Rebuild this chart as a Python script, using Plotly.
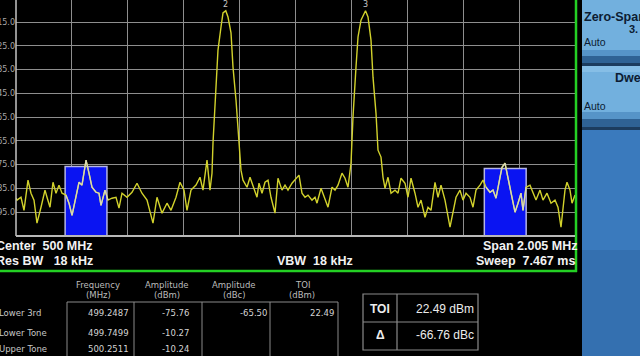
import plotly.graph_objects as go

W, H = 640, 356

# ---------------- data ----------------
freq_mhz = [498.9975, 499.0011, 499.0154, 499.0262, 499.0405, 499.0513, 499.0621, 499.0728, 499.0872,
            499.1015, 499.1087, 499.1195, 499.1302, 499.1410, 499.1517, 499.1625, 499.1768, 499.1876,
            499.1984, 499.2127, 499.2235, 499.2342, 499.2487, 499.2593, 499.2701, 499.2844, 499.2952,
            499.3024, 499.3167, 499.3275, 499.3418, 499.3562, 499.3669, 499.3777, 499.3956, 499.4136,
            499.4315, 499.4494, 499.4674, 499.4889, 499.5032, 499.5212, 499.5391, 499.5535, 499.5714,
            499.5857, 499.6001, 499.6108, 499.6252, 499.6431, 499.6575, 499.6682, 499.6826, 499.6933,
            499.7005, 499.7041, 499.7113, 499.7184, 499.7220, 499.7328, 499.7400, 499.7499, 499.7579,
            499.7687, 499.7758, 499.7866, 499.7938, 499.7974, 499.8045, 499.8117, 499.8261, 499.8368,
            499.8476, 499.8619, 499.8691, 499.8799, 499.8906, 499.9014, 499.9121, 499.9265, 499.9372,
            499.9516, 499.9624, 499.9731, 499.9875, 499.9982, 500.0126, 500.0233, 500.0341, 500.0448,
            500.0592, 500.0700, 500.0771, 500.0915, 500.1022, 500.1166, 500.1309, 500.1417, 500.1524,
            500.1668, 500.1776, 500.1883, 500.1991, 500.2062, 500.2170, 500.2242, 500.2349, 500.2511,
            500.2601, 500.2708, 500.2780, 500.2887, 500.2959, 500.3067, 500.3139, 500.3210, 500.3318,
            500.3426, 500.3569, 500.3677, 500.3784, 500.3928, 500.4035, 500.4143, 500.4286, 500.4394,
            500.4502, 500.4645, 500.4753, 500.4860, 500.5004, 500.5111, 500.5219, 500.5362, 500.5542,
            500.5649, 500.5757, 500.5900, 500.6008, 500.6116, 500.6259, 500.6367, 500.6474, 500.6618,
            500.6726, 500.6833, 500.6976, 500.7084, 500.7192, 500.7335, 500.7407, 500.7515, 500.7586,
            500.7694, 500.7801, 500.7873, 500.7981, 500.8088, 500.8160, 500.8268, 500.8411, 500.8519,
            500.8626, 500.8770, 500.8877, 500.9021, 500.9164, 500.9308, 500.9415, 500.9523, 500.9666,
            500.9738, 500.9846, 500.9918, 501.0025]
amp_dbm = [-89.1, -89.9, -88.7, -94.2, -81.5, -87.0, -89.9, -99.6, -92.9,
           -85.7, -88.7, -92.9, -82.4, -87.0, -83.6, -87.0, -87.8, -91.2,
           -96.3, -88.7, -82.4, -83.6, -73.1, -78.6, -84.5, -86.6, -87.0,
           -92.1, -85.7, -89.9, -89.1, -88.7, -93.3, -87.0, -88.7, -86.6,
           -82.8, -87.0, -89.9, -99.6, -88.7, -95.4, -91.2, -94.2, -88.7,
           -82.4, -85.7, -94.2, -85.7, -83.6, -80.3, -85.7, -73.1, -85.7,
           -78.6, -65.9, -52.1, -38.2, -26.8, -17.1, -11.2, -10.27, -12.9,
           -19.6, -33.9, -47.8, -59.2, -68.9, -77.3, -81.5, -84.5, -80.3,
           -83.6, -88.7, -82.8, -87.0, -82.4, -81.5, -88.7, -95.4, -80.7,
           -85.7, -83.6, -85.7, -82.8, -81.5, -79.4, -87.0, -88.7, -87.8,
           -89.9, -88.7, -91.2, -84.9, -88.7, -92.9, -84.5, -85.7, -83.6,
           -78.6, -80.7, -84.5, -74.4, -55.0, -33.9, -21.3, -14.2, -10.24,
           -12.9, -22.6, -38.2, -53.3, -68.9, -71.8, -80.3, -84.9, -80.3,
           -87.0, -85.7, -87.0, -80.7, -82.8, -88.7, -80.7, -87.0, -92.9,
           -89.9, -97.1, -92.9, -94.2, -82.4, -88.7, -83.6, -89.9, -101.3,
           -94.2, -88.7, -85.7, -89.9, -87.0, -88.7, -92.9, -85.7, -83.6,
           -81.5, -84.5, -86.6, -85.7, -89.1, -80.3, -76.1, -74.4, -78.6,
           -84.5, -89.9, -95.0, -91.2, -87.0, -94.2, -84.5, -83.6, -87.0,
           -89.9, -85.7, -89.9, -87.0, -91.2, -89.9, -92.9, -101.3, -85.7,
           -82.4, -85.7, -91.2, -87.8]

center_mhz = 500.0
span_mhz = 2.005
ref_level = -5.0
y_bottom = -105.0
y_ticks = [-95, -85, -75, -65, -55, -45, -35, -25, -15]

markers = [("2", 499.7499, -10.27), ("3", 500.2511, -10.24)]
im3_freqs = [499.2487, 500.7523]
im3_tops = [-75.76, -76.6]
im3_halfwidth = 0.075

row_labels = ["Lower 3rd", "Lower Tone", "Upper Tone"]
row_freq = ["499.2487", "499.7499", "500.2511"]
row_amp_dbm = ["-75.76", "-10.27", "-10.24"]
row_amp_dbc = ["-65.50", "", ""]
row_toi = ["22.49", "", ""]
col_headers = [("Frequency", "(MHz)"), ("Amplitude", "(dBm)"), ("Amplitude", "(dBc)"), ("TOI", "(dBm)")]
toi_result = "22.49 dBm"
delta_result = "-66.76 dBc"

# ---------------- helpers ----------------
def px(x):
    return x / W

def py(y):
    return 1 - y / H

x0f = center_mhz - span_mhz / 2
x1f = center_mhz + span_mhz / 2
ytop = ref_level - 1.75 / 2.375   # value at very top pixel row

fig = go.Figure()

fig.add_trace(go.Scatter(x=freq_mhz, y=amp_dbm, mode="lines",
                         line=dict(color="#d2d22c", width=1.4), hoverinfo="skip"))
for fc in im3_freqs:
    lo, hi = fc - im3_halfwidth - 0.004, fc + im3_halfwidth + 0.004
    xs = [f for f in freq_mhz if lo <= f <= hi]
    ys = [a for f, a in zip(freq_mhz, amp_dbm) if lo <= f <= hi]
    fig.add_trace(go.Scatter(x=xs, y=ys, mode="lines",
                             line=dict(color="#d8d8b8", width=1.3), hoverinfo="skip"))

shapes = []
for fc, top in zip(im3_freqs, im3_tops):
    shapes.append(dict(type="rect", xref="x", yref="y", x0=fc - im3_halfwidth, x1=fc + im3_halfwidth,
                       y0=y_bottom, y1=top, fillcolor="#0a14f2",
                       line=dict(color="#b4b4e6", width=1.5), layer="between"))

# green frame
shapes.append(dict(type="line", xref="paper", yref="paper", x0=px(0), x1=px(577), y0=py(271), y1=py(271),
                   line=dict(color="#24d024", width=2.5)))
shapes.append(dict(type="line", xref="paper", yref="paper", x0=px(576), x1=px(576), y0=py(0), y1=py(272),
                   line=dict(color="#24d024", width=2.5)))

def rect(xa, ya, xb, yb, color):
    shapes.append(dict(type="rect", xref="paper", yref="paper", x0=px(xa), x1=px(xb),
                       y0=py(yb), y1=py(ya), fillcolor=color, line=dict(width=0), layer="above"))

rect(582, 0, 640, 356, "#3876b8")
rect(582, 0, 640, 50, "#72b0de")
rect(582, 50, 640, 56, "#5694c8")
rect(582, 56, 640, 63, "#2f6294")
rect(582, 63, 640, 66, "#1c3c5e")
rect(582, 66, 640, 72, "#86bee6")
rect(582, 72, 640, 112, "#72b0de")
rect(582, 112, 640, 119, "#5694c8")
rect(582, 119, 640, 127, "#2f6294")
rect(582, 127, 640, 130, "#1c3c5e")
rect(582, 130, 640, 250, "#3a7abd")
rect(582, 250, 640, 356, "#3470b0")

gcol = "#8a8a8a"
tx = [67, 134, 202, 270, 338]
for xv in tx:
    shapes.append(dict(type="line", xref="paper", yref="paper", x0=px(xv), x1=px(xv), y0=py(302), y1=py(357),
                       line=dict(color=gcol, width=1)))
shapes.append(dict(type="line", xref="paper", yref="paper", x0=px(67), x1=px(338), y0=py(302), y1=py(302),
                   line=dict(color=gcol, width=1)))
shapes.append(dict(type="rect", xref="paper", yref="paper", x0=px(363), x1=px(478), y0=py(350), y1=py(294),
                   line=dict(color=gcol, width=1.2)))
shapes.append(dict(type="line", xref="paper", yref="paper", x0=px(363), x1=px(478), y0=py(322), y1=py(322),
                   line=dict(color=gcol, width=1.2)))
shapes.append(dict(type="line", xref="paper", yref="paper", x0=px(397), x1=px(397), y0=py(294), y1=py(350),
                   line=dict(color=gcol, width=1.2)))

# plot borders: left and bottom
shapes.append(dict(type="line", xref="paper", yref="paper", x0=px(16), x1=px(16), y0=py(236), y1=py(0),
                   line=dict(color="#c4c4c4", width=1.5)))
shapes.append(dict(type="line", xref="paper", yref="paper", x0=px(16), x1=px(575), y0=py(236), y1=py(236),
                   line=dict(color="#b8b8b8", width=2)))

ann = []

def text(x, y, s, size=9, color="#d0d0d0", anchor="left", bold=False, family="Liberation Sans"):
    if bold:
        s = "<b>" + s + "</b>"
    ann.append(dict(xref="paper", yref="paper", x=px(x), y=py(y), text=s, showarrow=False,
                    xanchor=anchor, yanchor="middle", borderpad=0,
                    font=dict(size=size, color=color, family=family)))

for lab, f, a in markers:
    ann.append(dict(xref="x", yref="y", x=f, y=a, text=lab, showarrow=False, yshift=6,
                    font=dict(size=8, color="#c8c8c8", family="DejaVu Sans")))

NB = "\u00a0"
text(-5, 246, "Center" + NB * 2 + "500 MHz", size=12.5, color="#f2f2f2", bold=True)
text(-5, 261, "Res BW" + NB * 3 + "18 kHz", size=12.5, color="#f2f2f2", bold=True)
text(276, 261, "VBW" + NB * 2 + "18 kHz", size=12.5, color="#f2f2f2", bold=True)
text(578, 246, "Span 2.005 MHz", size=12.5, color="#f2f2f2", anchor="right", bold=True)
text(576, 261, "Sweep" + NB * 2 + "7.467 ms", size=12.5, color="#f2f2f2", anchor="right", bold=True)

hdr_x = [98, 167, 234, 302]
for (h1, h2), hx in zip(col_headers, hdr_x):
    text(hx, 285, h1, size=8.5, color="#bcbcbc", anchor="center", family="DejaVu Sans")
    text(hx, 295, h2, size=8.5, color="#bcbcbc", anchor="center", family="DejaVu Sans")
row_y = [313, 333, 349]
for i, ry in enumerate(row_y):
    text(-2, ry, row_labels[i], size=8.5, color="#c8c8c8", family="DejaVu Sans")
    text(130, ry, row_freq[i], size=8.5, color="#d4d4d4", anchor="right", family="DejaVu Sans")
    text(190, ry, row_amp_dbm[i], size=8.5, color="#d4d4d4", anchor="right", family="DejaVu Sans")
    if row_amp_dbc[i]:
        text(268, ry, row_amp_dbc[i], size=8.5, color="#d4d4d4", anchor="right", family="DejaVu Sans")
    if row_toi[i]:
        text(335, ry, row_toi[i], size=8.5, color="#d4d4d4", anchor="right", family="DejaVu Sans")

text(380, 309, "TOI", size=12, color="#ececec", anchor="center", bold=True)
text(475, 309, toi_result, size=12, color="#ececec", anchor="right")
text(380, 335, "Δ", size=12, color="#ececec", anchor="center", bold=True)
text(475, 335, delta_result, size=12, color="#ececec", anchor="right")

kc = "#0c1c32"
text(583, 17, "Zero-Span", size=12.5, color=kc, bold=True)
text(628, 29, "3.", size=11, color=kc, bold=True)
text(583, 42, "Auto", size=10.5, color=kc)
text(614, 78, "Dwell", size=12.5, color=kc, bold=True)
text(583, 106, "Auto", size=10.5, color=kc)

fig.update_layout(
    width=W, height=H, margin=dict(l=0, r=0, t=0, b=0, autoexpand=False),
    paper_bgcolor="#000000", plot_bgcolor="#000000",
    showlegend=False, shapes=shapes, annotations=ann,
    xaxis=dict(domain=[16 / W, 575 / W], range=[x0f, x1f], tick0=x0f, dtick=span_mhz / 10,
               showgrid=True, gridcolor="#8e8e8e", gridwidth=1, showticklabels=False, zeroline=False,
               showline=False, ticks="", automargin=False),
    yaxis=dict(domain=[(H - 236) / H, 1], range=[y_bottom, ytop], tickvals=y_ticks,
               ticktext=[f"{v:.1f}" for v in y_ticks], automargin=False,
               showgrid=True, gridcolor="#8e8e8e", gridwidth=1, zeroline=False, ticks="",
               tickfont=dict(size=8, color="#a8a8a8", family="DejaVu Sans"),
               showline=False),
)

fig.write_html("out.html")
